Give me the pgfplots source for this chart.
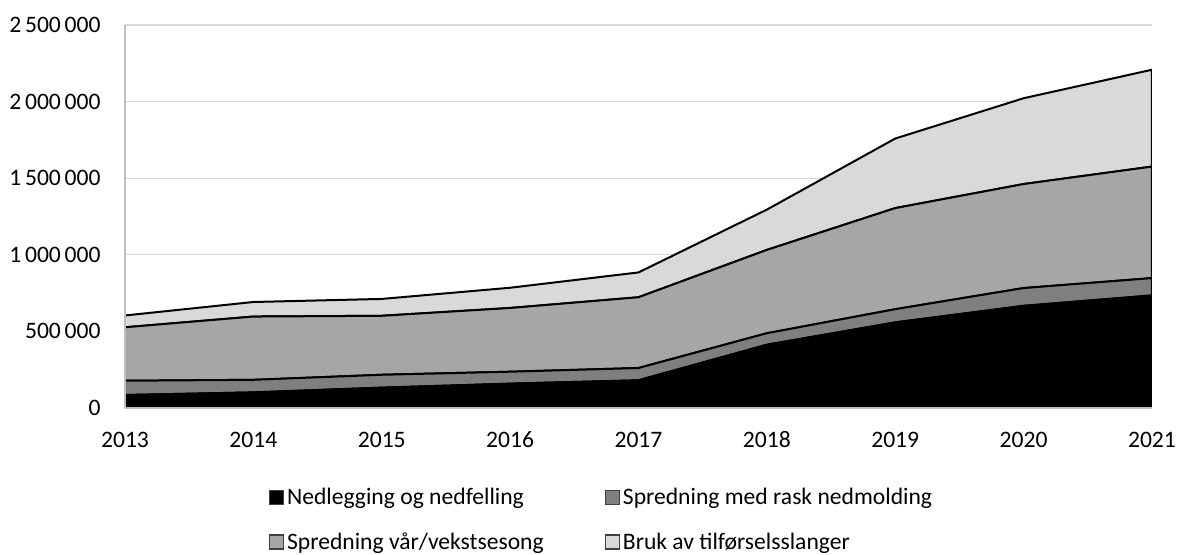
\documentclass[border=0pt]{standalone}
\usepackage{pgfplots}
\pgfplotsset{compat=1.18}
\usepackage{pgfplotstable}
\usepackage{fontspec}
\setmainfont{Carlito}

\definecolor{sA}{HTML}{000000}
\definecolor{sB}{HTML}{7F7F7F}
\definecolor{sC}{HTML}{A6A6A6}
\definecolor{sD}{HTML}{D9D9D9}
\definecolor{gridc}{HTML}{D9D9D9}
\definecolor{axc}{HTML}{BFBFBF}

\pgfplotstableread{
year a b c d
2013 85000 93000 349000 77000
2014 102000 82000 413000 95000
2015 133000 84000 385000 110000
2016 159000 78000 416000 132000
2017 181000 80000 462000 162000
2018 413000 75000 544000 263000
2019 559000 86000 660000 454000
2020 667000 116000 679000 560000
2021 735000 113000 728000 632000
}\data

\newcommand{\ts}{\hspace{0.16em}}

\begin{document}
\begin{tikzpicture}
\path[use as bounding box] (-62.5pt,-73pt) rectangle (527.5pt,204pt);
\begin{axis}[
  scale only axis,
  width=513.5pt, height=191.5pt,
  xmin=2013, xmax=2021, ymin=0, ymax=2500000,
  stack plots=y,
  xtick={2013,2014,2015,2016,2017,2018,2019,2020,2021},
  xticklabels={2013,2014,2015,2016,2017,2018,2019,2020,2021},
  ytick={0,500000,1000000,1500000,2000000,2500000},
  yticklabels={0,{500\ts000},{1\ts000\ts000},{1\ts500\ts000},{2\ts000\ts000},{2\ts500\ts000}},
  scaled y ticks=false,
  major tick length=0pt,
  tick style={draw=none},
  ymajorgrids,
  grid style={draw=gridc, line width=0.6pt},
  axis line style={draw=none},
  tick label style={font=\fontsize{11.8}{14}\selectfont},
  yticklabel style={inner sep=0pt, xshift=-12pt},
  xticklabel style={inner sep=0pt, text height=8.5pt, text depth=0pt, yshift=-11pt},
  legend columns=2,
  legend cell align=left,
  legend style={at={(0.4645,-0.2937)}, anchor=center, draw=none, fill=none,
    font=\fontsize{11.8}{14}\selectfont,
    /tikz/every even column/.append style={column sep=29pt},
    row sep=12.5pt,
    nodes={inner xsep=1.5pt, inner ysep=0pt}},
  legend image code/.code={\draw[#1,draw=black!75,line width=0.6pt] (0pt,-3.2pt) rectangle (7pt,3.8pt);},
  after end axis/.code={
    \draw[axc, line width=1pt] (rel axis cs:0,0) -- (rel axis cs:0,1);
    \draw[axc, line width=1pt] (rel axis cs:0,0) -- (rel axis cs:1,0);
  },
]
\addplot[fill=sA, draw=black, line width=1pt] table[x=year, y=a] {\data} \closedcycle;
\addlegendentry{Nedlegging og nedfelling}
\addplot[fill=sB, draw=black, line width=1pt] table[x=year, y=b] {\data} \closedcycle;
\addlegendentry{Spredning med rask nedmolding}
\addplot[fill=sC, draw=black, line width=1pt] table[x=year, y=c] {\data} \closedcycle;
\addlegendentry{Spredning vår/vekstsesong}
\addplot[fill=sD, draw=black, line width=1pt] table[x=year, y=d] {\data} \closedcycle;
\addlegendentry{Bruk av tilførselsslanger}
\end{axis}
\end{tikzpicture}
\end{document}
